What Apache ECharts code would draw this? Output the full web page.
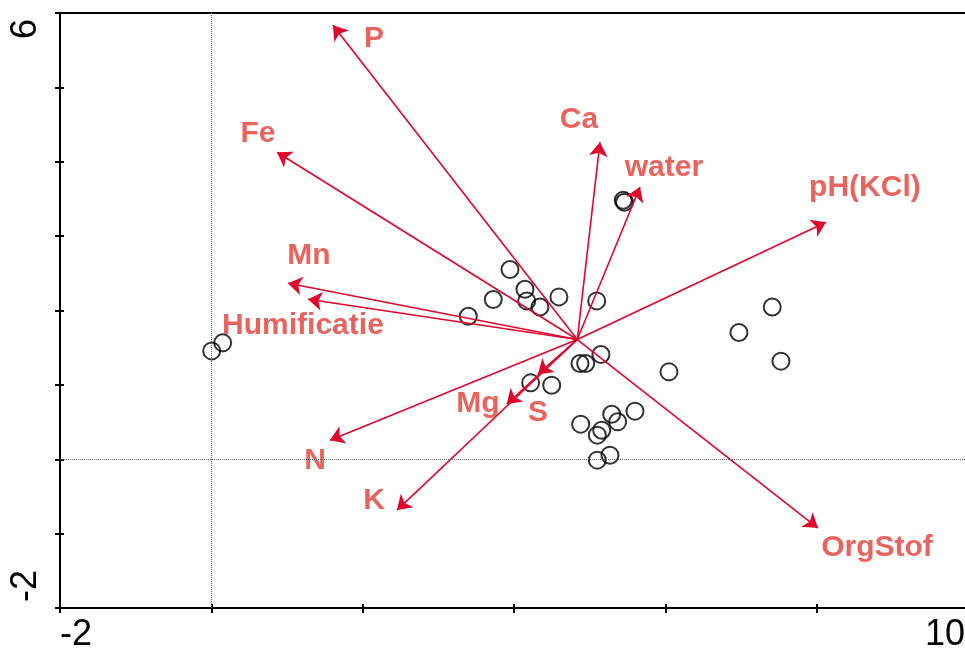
<!DOCTYPE html>
<html><head><meta charset="utf-8">
<script src="https://cdn.jsdelivr.net/npm/echarts@6/dist/echarts.min.js"></script>
<style>html,body{margin:0;padding:0;background:#fff;overflow:hidden}#c{width:965px;height:658px}</style>
</head><body><div id="c"></div><script>
// sample scores (open circles)
const sampleX = [0.005, 0.150, 3.396, 3.726, 3.947, 4.145, 4.168, 4.343, 4.594, 5.093, 5.444, 5.460, 4.872, 4.947, 5.149, 4.220, 4.498, 6.048, 6.973, 7.413, 7.528, 4.881, 5.291, 5.370, 5.159, 5.101, 5.599, 5.101, 5.268];
const sampleY = [1.457, 1.565, 1.923, 2.148, 2.551, 2.286, 2.129, 2.048, 2.183, 2.129, 3.483, 3.456, 1.288, 1.288, 1.409, 1.027, 0.996, 1.175, 1.704, 2.048, 1.319, 0.472, 0.606, 0.503, 0.391, 0.324, 0.647, -0.012, 0.055];
// environmental variable arrows
const arrowNames = ['P', 'Fe', 'Ca', 'water', 'pH(KCl)', 'Mn', 'Humificatie', 'N', 'K', 'Mg', 'S', 'OrgStof'];
const arrowTipX = [1.608, 0.868, 5.136, 5.665, 8.123, 1.013, 1.277, 1.568, 2.454, 3.903, 4.317, 8.017];
const arrowTipY = [5.835, 4.128, 4.262, 3.661, 3.187, 2.367, 2.152, 0.257, -0.684, 0.741, 1.144, -0.926];
const labelX = [2.150, 0.617, 4.859, 5.982, 8.638, 1.291, 1.211, 1.370, 2.150, 3.524, 4.317, 8.797];
const labelY = [5.660, 4.383, 4.571, 3.926, 3.644, 2.730, 1.789, -0.025, -0.563, 0.741, 0.620, -1.195];
const arrowOriginX = 4.836;
const arrowOriginY = 1.61;
// axis
const xMin = -2, xMax = 10, xStep = 2;
const yMin = -2, yMax = 6, yStep = 1;
const xTickLabels = ['-2', '10'];
const yTickLabels = ['6', '-2'];

const FONT = "'Liberation Sans', Arial, sans-serif";
const ARROW_COLOR = '#e0062c';
const LABEL_COLOR = '#e63c34';

const chart = echarts.init(document.getElementById('c'), null, {renderer: 'canvas'});

const samples = sampleX.map((x, i) => [x, sampleY[i]]);
const arrows = arrowNames.map((n, i) => ({name: n, coords: [[arrowOriginX, arrowOriginY], [arrowTipX[i], arrowTipY[i]]]}));
const labels = arrowNames.map((n, i) => ({name: n, value: [labelX[i], labelY[i]]}));

const axisBase = {
  type: 'value', min: xMin, max: xMax, interval: xStep, splitLine: {show: false}
};

chart.setOption({
  animation: false,
  backgroundColor: '#fff',
  grid: {left: 60, top: 13, right: -3, bottom: 50, show: true, borderColor: '#000', borderWidth: 2, backgroundColor: 'transparent', outerBoundsMode: 'none', containLabel: false},
  xAxis: [
    Object.assign({}, axisBase, {
      position: 'bottom',
      axisLine: {show: true, onZero: false, lineStyle: {color: '#000', width: 2}},
      axisTick: {show: true, inside: false, length: 5, lineStyle: {color: '#000', width: 2}},
      axisLabel: {
        show: true, margin: 9, fontSize: 36, color: '#000', fontFamily: FONT,
        showMinLabel: true, showMaxLabel: true,
        alignMinLabel: 'left', alignMaxLabel: 'right',
        formatter: v => {
          const s = String(v);
          if (xTickLabels.indexOf(s) < 0) return '';
          return v === xMax ? '{mx|' + s + '}' : s;
        },
        rich: {mx: {fontSize: 36, fontFamily: FONT, color: '#000', padding: [0, 3, 0, 0]}}
      }
    }),
    Object.assign({}, axisBase, {
      position: 'bottom',
      axisLine: {show: false, onZero: false},
      axisTick: {show: true, inside: true, length: 4, lineStyle: {color: '#000', width: 2}},
      axisLabel: {show: false}
    })
  ],
  yAxis: [
    {
      type: 'value', min: yMin, max: yMax, interval: yStep, position: 'left', splitLine: {show: false},
      axisLine: {show: true, onZero: false, lineStyle: {color: '#000', width: 2}},
      axisTick: {show: true, inside: false, length: 5, lineStyle: {color: '#000', width: 2}},
      axisLabel: {show: false}
    },
    {
      type: 'value', min: yMin, max: yMax, interval: yStep, position: 'left', splitLine: {show: false},
      axisLine: {show: false, onZero: false},
      axisTick: {show: true, inside: true, length: 4, lineStyle: {color: '#000', width: 2}},
      axisLabel: {show: false}
    }
  ],
  series: [
    {
      type: 'scatter', name: 'samples', xAxisIndex: 0, yAxisIndex: 0,
      data: samples, symbol: 'circle', symbolSize: 17, z: 2,
      itemStyle: {color: 'rgba(0,0,0,0)', borderColor: '#000', borderWidth: 2},
      markLine: {
        silent: true, symbol: 'none', label: {show: false},
        lineStyle: {color: '#666', type: 'dotted', width: 1},
        data: [{xAxis: 0}, {yAxis: 0}]
      }
    },
    {
      type: 'lines', coordinateSystem: 'cartesian2d', xAxisIndex: 0, yAxisIndex: 0, z: 3,
      data: arrows, symbol: ['none', 'arrow'], symbolSize: 14,
      lineStyle: {color: ARROW_COLOR, width: 1.6, opacity: 1}
    },
    {
      type: 'scatter', name: 'labels', xAxisIndex: 0, yAxisIndex: 0, z: 4,
      data: labels, symbolSize: 0, silent: true,
      label: {show: true, position: 'inside', formatter: p => p.name, fontSize: 30, fontWeight: 'bold', color: LABEL_COLOR, fontFamily: FONT}
    }
  ]
});

// rotated y-axis tick labels, positioned through the axis scale
const pTop = chart.convertToPixel({xAxisIndex: 0, yAxisIndex: 0}, [xMin, yMax]);
const pBot = chart.convertToPixel({xAxisIndex: 0, yAxisIndex: 0}, [xMin, yMin]);
chart.setOption({
  graphic: [
    {type: 'text', x: pTop[0] - 34, y: pTop[1] + 6, rotation: Math.PI / 2,
     style: {text: yTickLabels[0], fontSize: 36, fontFamily: FONT, fill: '#000', align: 'right', verticalAlign: 'middle'}},
    {type: 'text', x: pBot[0] - 34, y: pBot[1] - 6, rotation: Math.PI / 2,
     style: {text: yTickLabels[1], fontSize: 36, fontFamily: FONT, fill: '#000', align: 'left', verticalAlign: 'middle'}}
  ]
});
</script></body></html>
